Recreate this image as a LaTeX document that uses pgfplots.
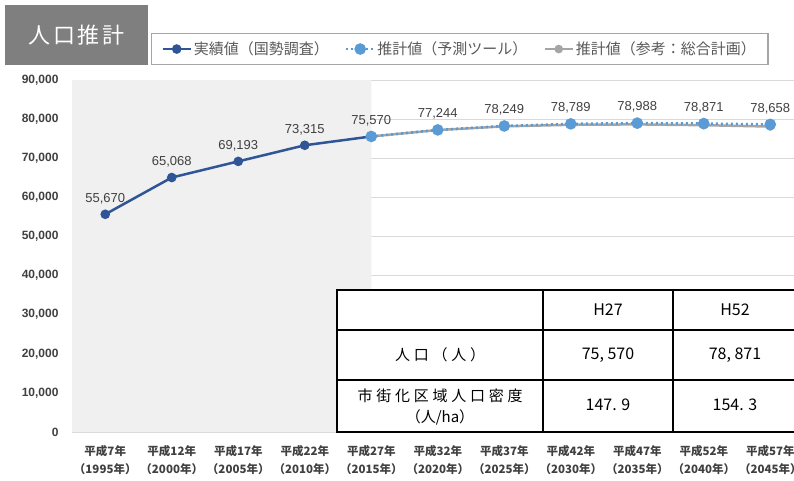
\documentclass[border=0pt]{standalone}
\usepackage{fontspec}
\setmainfont{Liberation Sans}
\newfontfamily\cjk{Noto Sans CJK JP}
\newfontfamily\cjkls[LetterSpace=25]{Noto Sans CJK JP}
\newfontfamily\cjkt[LetterSpace=12]{Noto Sans CJK JP}
\usepackage{pgfplots}
\pgfplotsset{compat=1.18}
\definecolor{actual}{HTML}{2F5597}
\definecolor{tool}{HTML}{5B9BD5}
\definecolor{plan}{HTML}{A5A5A5}
\definecolor{txt}{HTML}{404040}
\definecolor{legtxt}{HTML}{595959}
\definecolor{shade}{HTML}{F0F0F0}
\definecolor{gridc}{HTML}{D9D9D9}
\definecolor{titlegray}{HTML}{7F7F7F}
\begin{document}
\begin{tikzpicture}[x=1pt,y=1pt]
\useasboundingbox (0,0) rectangle (794,480);
\clip (0,0) rectangle (794,480);
\begin{axis}[at={(72pt,48pt)}, anchor=south west, scale only axis,
  width=722pt, height=352pt,
  xmin=-0.5, xmax=10.357, ymin=0, ymax=90000, clip=false,
  axis line style={draw=none}, tick style={draw=none}, major tick length=0pt,
  ytick={0,10000,...,90000}, scaled y ticks=false,
  ymajorgrids, major grid style={gridc, line width=0.8pt},
  /pgf/number format/1000 sep={,},
  /pgf/number format/assume math mode=true,
  yticklabel style={font=\bfseries\fontsize{12}{13}\selectfont, text=txt, xshift=-10pt},
  xtick={0,...,10},
  xticklabels={{平成7年\\（1995年）},{平成12年\\（2000年）},{平成17年\\（2005年）},{平成22年\\（2010年）},{平成27年\\（2015年）},{平成32年\\（2020年）},{平成37年\\（2025年）},{平成42年\\（2030年）},{平成47年\\（2035年）},{平成52年\\（2040年）},{平成57年\\（2045年）}},
  xticklabel style={font=\cjk\bfseries\fontsize{11.5}{18}\selectfont, text=txt, align=center, yshift=-10pt},
  legend columns=3,
  legend image code/.code={\draw[mark repeat=2,mark phase=2,#1] plot coordinates {(0pt,0pt) (14pt,0pt) (28pt,0pt)};},
  legend style={at={(axis description cs:0.537,1.088)}, anchor=center, draw=plan, line width=1.2pt,
    font=\cjk\fontsize{15}{17}\selectfont, text=legtxt, inner ysep=6pt, inner xsep=10pt,
    /tikz/every even column/.append style={column sep=14pt}},
  legend cell align=left,
]
\addplot[fill=shade, draw=none, forget plot] coordinates {(-0.5,0) (4,0) (4,90000) (-0.5,90000)} \closedcycle;
\addplot[actual, line width=2.5pt, mark=*, mark size=3.5pt] coordinates {
(0,55670) (1,65068) (2,69193) (3,73315) (4,75570)};
\addlegendentry{実績値（国勢調査）}
\addplot[plan, line width=2.5pt, mark=*, mark size=3pt, forget plot] coordinates {
(4,75570) (5,77200) (6,78150) (7,78550) (8,78650) (9,78450) (10,78100)};
\addplot[tool, line width=2.5pt, dash pattern=on 2pt off 3pt, mark=*, mark size=4.5pt, mark options={solid}] coordinates {
(4,75570) (5,77244) (6,78249) (7,78789) (8,78988) (9,78871) (10,78658)};
\addlegendentry{推計値（予測ツール）}
\addlegendimage{plan, line width=2.5pt, mark=*, mark size=3pt}
\addlegendentry{推計値（参考：総合計画）}
\addplot[draw=none, mark=none, forget plot, nodes near coords,
  nodes near coords style={font=\fontsize{13}{14}\selectfont, text=txt, anchor=south, yshift=7pt}] coordinates {
(0,55670) (1,65068) (2,69193) (3,73315) (4,75570) (5,77244) (6,78249) (7,78789) (8,78988) (9,78871) (10,78658)};
\end{axis}
% title box
\node[fill=titlegray, minimum width=143pt, minimum height=60pt, text=white, font=\cjkt\fontsize{22}{24}\selectfont, inner sep=0pt] at (76.5,445) {人口推計};
% table
\fill[white] (337,48) rectangle (800,190);
\draw[line width=2pt] (337,48) rectangle (800,190);
\draw[line width=2pt] (337,150) -- (800,150) (337,100) -- (800,100) (543,48) -- (543,190) (673,48) -- (673,190);
\begin{scope}[every node/.style={font=\cjk\fontsize{16}{18}\selectfont, inner sep=0pt}]
\node at (608,170) {H27};
\node at (735,170) {H52};
\node at (608,125) {75, 570};
\node at (735,125) {78, 871};
\node at (608,75) {147. 9};
\node at (735,75) {154. 3};
\node[font=\cjkls\fontsize{15}{17}\selectfont] at (440,125) {人口（人）};
\node[font=\cjkls\fontsize{15}{17}\selectfont] at (440,84) {市街化区域人口密度};
\node[font=\cjk\fontsize{15}{17}\selectfont] at (440,63) {（人/ha）};
\end{scope}
\end{tikzpicture}
\end{document}
